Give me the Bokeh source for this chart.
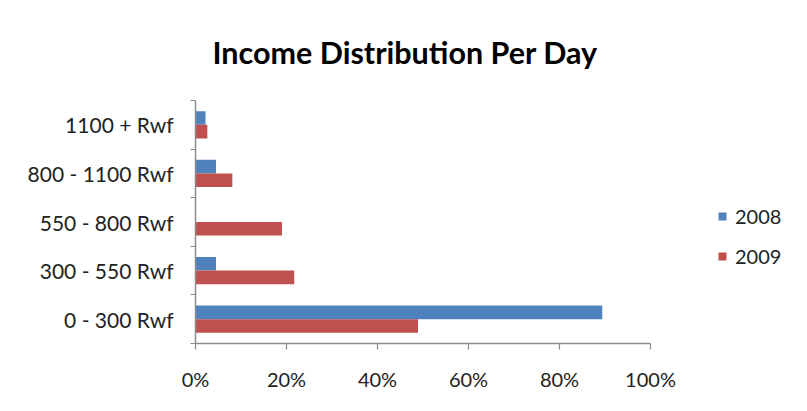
from bokeh.plotting import figure
from bokeh.models import (Range1d, FactorRange, LinearAxis, CategoricalAxis, FixedTicker,
                          NumeralTickFormatter, Title, Legend, LegendItem)
from bokeh.transform import dodge
from bokeh.embed import file_html
from bokeh.resources import INLINE

# ---- data ----
categories = ["0 - 300 Rwf", "300 - 550 Rwf", "550 - 800 Rwf", "800 - 1100 Rwf", "1100 + Rwf"]
values_2008 = [0.894, 0.045, 0.0, 0.045, 0.022]
values_2009 = [0.489, 0.217, 0.190, 0.081, 0.026]
series_names = ["2008", "2009"]
x_ticks = [0, 0.2, 0.4, 0.6, 0.8, 1.0]
title_text = "Income Distribution Per Day"

FONT = "Lato"
BLUE = "#4F81BD"
RED = "#C0504D"
AXIS_GRAY = "#8c8c8c"

p = figure(width=807, height=411, output_backend="svg", toolbar_location=None,
           x_range=Range1d(0, 1), y_range=FactorRange(factors=categories),
           x_axis_location=None, y_axis_location=None,
           frame_width=455, frame_height=243,
           min_border_left=195, min_border_right=157, min_border_top=100, min_border_bottom=68)
p.outline_line_color = None
p.xgrid.visible = False
p.ygrid.visible = False
p.background_fill_color = "white"
p.border_fill_color = "white"

src = dict(cat=categories, v2008=values_2008, v2009=values_2009)
r1 = p.hbar(y=dodge("cat", 0.14, range=p.y_range), right="v2008", left=0, height=0.28,
            source=src, fill_color=BLUE, line_color=None)
r2 = p.hbar(y=dodge("cat", -0.14, range=p.y_range), right="v2009", left=0, height=0.28,
            source=src, fill_color=RED, line_color=None)

title = Title(text=title_text, align="left", text_font=FONT, text_font_style="bold",
              text_font_size="30.5px", text_color="#000000", standoff=61, offset=17)
p.add_layout(title, "above")

# boundary tick axis (ticks between categories, in synthetic category coordinates)
edge_axis = LinearAxis(ticker=FixedTicker(ticks=list(range(len(categories) + 1))),
                       major_label_text_font_size="1px", major_label_text_color=None,
                       major_label_standoff=0,
                       axis_line_color=AXIS_GRAY, major_tick_line_color=AXIS_GRAY,
                       major_tick_out=5, major_tick_in=0, minor_tick_line_color=None,
                       axis_line_width=1.5, major_tick_line_width=1.2)
p.add_layout(edge_axis, "left")

cat_axis = CategoricalAxis(axis_line_color=None, major_tick_line_color=None,
                           major_label_text_font=FONT, major_label_text_font_size="21px",
                           major_label_text_color="#222222", major_label_standoff=11)
p.add_layout(cat_axis, "left")

x_axis = LinearAxis(ticker=FixedTicker(ticks=x_ticks),
                    formatter=NumeralTickFormatter(format="0%"),
                    axis_line_color=AXIS_GRAY, major_tick_line_color=AXIS_GRAY,
                    major_tick_out=6, major_tick_in=0, minor_tick_line_color=None,
                    axis_line_width=1.5, major_tick_line_width=1.2,
                    major_label_text_font=FONT, major_label_text_font_size="20px",
                    major_label_text_color="#222222", major_label_standoff=17)
p.add_layout(x_axis, "below")

legend = Legend(items=[LegendItem(label=series_names[0], renderers=[r1]),
                       LegendItem(label=series_names[1], renderers=[r2])],
                location=(67, 75), orientation="vertical",
                glyph_width=10, glyph_height=10, label_height=20, spacing=16,
                label_standoff=8, padding=0, margin=0,
                border_line_color=None, background_fill_alpha=0,
                label_text_font=FONT, label_text_font_size="20px", label_text_color="#222222")
p.add_layout(legend, "right")

open("out.html", "w").write(file_html(p, INLINE))
